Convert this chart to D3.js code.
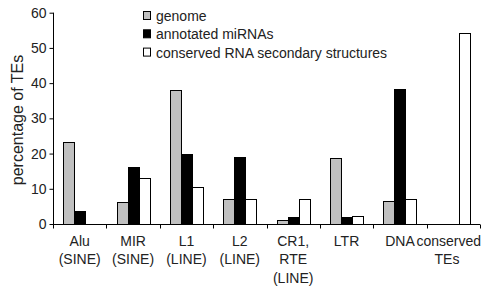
<!DOCTYPE html>
<html><head><meta charset="utf-8">
<script src="https://cdn.jsdelivr.net/npm/d3@7"></script>
<style>body{margin:0;background:#fff}svg{display:block}text{font-family:"Liberation Sans",Arial,sans-serif;fill:#222}</style>
</head><body>
<script>
const categories = [["Alu","(SINE)"],["MIR","(SINE)"],["L1","(LINE)"],["L2","(LINE)"],["CR1,","RTE","(LINE)"],["LTR"],["DNA"],["conserved","TEs"]];
const seriesNames = ["genome","annotated miRNAs","conserved RNA secondary structures"];
const genome = [23.4, 6.3, 38.1, 7.2, 1.1, 18.7, 6.6, 0];
const mirnas = [3.8, 16.3, 19.9, 19.1, 1.9, 1.9, 38.3, 0];
const conserved = [0, 13.0, 10.4, 7.2, 7.2, 2.3, 7.0, 54.2];
const yTicks = [0,10,20,30,40,50,60];
const colors = ["#c0c0c0","#000000","#ffffff"];

const W=482,H=288;
const svg=d3.select("body").append("svg").attr("width",W).attr("height",H);
const x0=d3.scaleBand().domain(d3.range(categories.length)).range([53,480]);
const x1=d3.scaleBand().domain([0,1,2]).range([0,33]);
const y=d3.scaleLinear().domain([0,60]).range([224,12.7]);
const series=[genome,mirnas,conserved];

// bars
series.forEach((vals,s)=>{
  const data=vals.map((v,i)=>({v,i})).filter(d=>d.v>0);
  svg.append("g").selectAll("rect").data(data).join("rect")
    .attr("x",d=>Math.round(x0(d.i)+(x0.bandwidth()-33)/2+x1(s))+0.5)
    .attr("y",d=>Math.round(y(d.v))+0.5)
    .attr("width",x1.bandwidth())
    .attr("height",d=>Math.round(y(0))-Math.round(y(d.v)))
    .attr("fill",colors[s]).attr("stroke","#000").attr("stroke-width",1);
});

// y axis
const ya=svg.append("g").attr("transform","translate(53.5,0)")
  .call(d3.axisLeft(y).tickValues(yTicks).tickSize(4).tickPadding(3));
ya.selectAll("text").style("font-size","14px").style("font-family","Liberation Sans, Arial, sans-serif");
ya.select(".domain").attr("d","M0,"+y(60)+"V"+y(0));
// x axis
const xg=svg.append("g").attr("transform","translate(0,"+(Math.round(y(0))+0.5)+")");
xg.append("line").attr("x1",53).attr("x2",480).attr("stroke","#000");
xg.selectAll(".tk").data(d3.range(categories.length+1)).join("line")
  .attr("x1",i=>Math.round(53+i*x0.step())+0.5).attr("x2",i=>Math.round(53+i*x0.step())+0.5)
  .attr("y1",0).attr("y2",4).attr("stroke","#000");
categories.forEach((lines,i)=>{
  const cx=x0(i)+x0.bandwidth()/2;
  const t=xg.append("text").attr("text-anchor","middle").style("font-size","14px").attr("y",21);
  lines.forEach((l,k)=>{
    const ts=t.append("tspan").attr("x",cx).attr("dy",k?18.5:0).text(l);
    if(i===7){ if(k===0) ts.attr("x",481).attr("text-anchor","end"); else ts.attr("x",447); }
  });
});
// y label
svg.append("text").attr("transform","translate(23,120) rotate(-90)").attr("text-anchor","middle")
  .style("font-size","16px").text("percentage of TEs");
// legend
const lg=svg.append("g");
seriesNames.forEach((n,i)=>{
  const yy=16+i*18.3;
  lg.append("rect").attr("x",143.5).attr("y",yy-4.5).attr("width",7).attr("height",8)
    .attr("fill",colors[i]).attr("stroke","#000");
  lg.append("text").attr("x",156).attr("y",yy+5).style("font-size","14px").text(n);
});
</script>
</body></html>
